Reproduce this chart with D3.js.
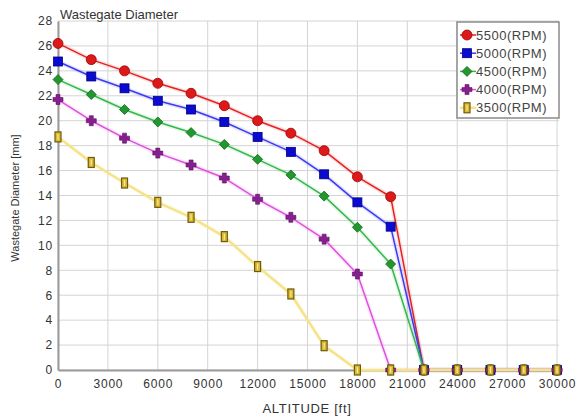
<!DOCTYPE html>
<html><head><meta charset="utf-8">
<script src="https://cdn.jsdelivr.net/npm/d3@7"></script>
<style>body{margin:0;background:#fff;} svg{display:block;font-family:"Liberation Sans",Arial,sans-serif;}</style>
</head><body>
<svg id="c" width="581" height="418"></svg>
<script>
const altitudes = [0,2000,4000,6000,8000,10000,12000,14000,16000,18000,20000,22000,24000,26000,28000,30000];
const rpm5500 = [26.2,24.9,24.0,23.0,22.2,21.2,20.0,19.0,17.6,15.5,13.9,0,0,0,0,0];
const rpm5000 = [24.75,23.55,22.6,21.6,20.9,19.9,18.7,17.5,15.7,13.45,11.5,0,0,0,0,0];
const rpm4500 = [23.3,22.1,20.9,19.9,19.05,18.1,16.9,15.65,13.95,11.45,8.5,0,0,0,0,0];
const rpm4000 = [21.7,20.0,18.6,17.4,16.45,15.4,13.7,12.25,10.5,7.7,0,0,0,0,0,0];
const rpm3500 = [18.7,16.65,15.0,13.45,12.25,10.7,8.3,6.1,1.95,0,0,0,0,0,0,0];
const seriesNames = ["5500(RPM)","5000(RPM)","4500(RPM)","4000(RPM)","3500(RPM)"];
const xTicks = [0,3000,6000,9000,12000,15000,18000,21000,24000,27000,30000];
const yTicks = [0,2,4,6,8,10,12,14,16,18,20,22,24,26,28];

const series = [
  {name:seriesNames[0], values:rpm5500, line:"#e52222", lw:1.5, fill:"#dd1a1a", stroke:"#a00000", shape:"circle"},
  {name:seriesNames[1], values:rpm5000, line:"#3a3af5", lw:1.5, fill:"#0a0ad0", stroke:"#000080", shape:"square"},
  {name:seriesNames[2], values:rpm4500, line:"#33b84a", lw:1.5, fill:"#23962f", stroke:"#0f6a1a", shape:"diamond"},
  {name:seriesNames[3], values:rpm4000, line:"#e050e0", lw:1.5, fill:"#86208f", stroke:"#5a0f60", shape:"plus"},
  {name:seriesNames[4], values:rpm3500, line:"#f4e38a", lw:2.5, fill:"#d9b834", stroke:"#6e5a08", shape:"bar"}
];

const svg = d3.select("#c");
const m = {l:58, r:557, t:21, b:370};
const x = d3.scaleLinear().domain([0,30000]).range([m.l,m.r]);
const y = d3.scaleLinear().domain([0,28]).range([m.b,m.t]);

// grid
const g = svg.append("g");
g.selectAll("line.h").data(yTicks).join("line")
  .attr("x1",m.l).attr("x2",m.r+2).attr("y1",d=>y(d)).attr("y2",d=>y(d))
  .attr("stroke","#d4d4d4").attr("stroke-width",1);
g.selectAll("line.v").data(xTicks).join("line")
  .attr("y1",m.t).attr("y2",m.b).attr("x1",d=>x(d)).attr("x2",d=>x(d))
  .attr("stroke","#d4d4d4").attr("stroke-width",1);

// axes
const xa = svg.append("g").attr("transform",`translate(0,${m.b})`)
  .call(d3.axisBottom(x).tickValues(xTicks).tickSize(0).tickPadding(9).tickFormat(d3.format("d")));
const ya = svg.append("g").attr("transform",`translate(${m.l},0)`)
  .call(d3.axisLeft(y).tickValues(yTicks).tickSize(0).tickPadding(5));
[xa,ya].forEach(a=>{
  a.select(".domain").attr("stroke","#9a9a9a").attr("stroke-width",2);
  a.selectAll("text").attr("fill","#333").style("font-size","12px").style("letter-spacing","0.8px")
    .style("font-family","'Liberation Sans',Arial,sans-serif");
});

// lines
const line = d3.line().x((d,i)=>x(altitudes[i])).y(d=>y(d));
const lg = svg.append("g");
series.forEach(s=>{
  lg.append("path").datum(s.values).attr("d",line).attr("fill","none")
    .attr("stroke",s.line).attr("stroke-width",s.lw+3).attr("stroke-opacity",0.12).attr("stroke-linejoin","round");
  lg.append("path").datum(s.values).attr("d",line).attr("fill","none")
    .attr("stroke",s.line).attr("stroke-width",s.lw).attr("stroke-linejoin","round");
});

function marker(sel, s, cx, cy){
  if(s.shape==="circle"){
    sel.append("circle").attr("cx",cx).attr("cy",cy).attr("r",5).attr("fill",s.fill).attr("stroke",s.stroke).attr("stroke-width",0.8);
  } else if(s.shape==="square"){
    sel.append("rect").attr("x",cx-4.5).attr("y",cy-4.5).attr("width",9).attr("height",9).attr("fill",s.fill).attr("stroke",s.stroke).attr("stroke-width",0.8);
  } else if(s.shape==="diamond"){
    sel.append("path").attr("d",`M${cx},${cy-5}L${cx+5},${cy}L${cx},${cy+5}L${cx-5},${cy}Z`).attr("fill",s.fill).attr("stroke",s.stroke).attr("stroke-width",0.8);
  } else if(s.shape==="plus"){
    const a=5,b=2;
    sel.append("path").attr("d",`M${cx-b},${cy-a}H${cx+b}V${cy-b}H${cx+a}V${cy+b}H${cx+b}V${cy+a}H${cx-b}V${cy+b}H${cx-a}V${cy-b}H${cx-b}Z`)
      .attr("fill",s.fill).attr("stroke",s.stroke).attr("stroke-width",0.6);
  } else {
    sel.append("rect").attr("x",cx-3).attr("y",cy-5).attr("width",6).attr("height",10).attr("fill",s.fill).attr("stroke",s.stroke).attr("stroke-width",1.2);
    sel.append("line").attr("x1",cx).attr("x2",cx).attr("y1",cy-3).attr("y2",cy+3).attr("stroke","#f7ea9a").attr("stroke-width",1.2);
  }
}
const mg = svg.append("g");
series.forEach(s=>{
  s.values.forEach((v,i)=>marker(mg,s,x(altitudes[i]),y(v)));
});

// title and labels
svg.append("text").attr("x",60).attr("y",19).text("Wastegate Diameter")
  .attr("fill","#333").style("font-size","13px");
svg.append("text").attr("x",307).attr("y",413).attr("text-anchor","middle").text("ALTITUDE [ft]")
  .attr("fill","#333").style("font-size","13px").style("letter-spacing","0.7px");
svg.append("text").attr("transform","translate(19,198) rotate(-90)").attr("text-anchor","middle").text("Wastegate Diameter [mm]")
  .attr("fill","#333").style("font-size","11px");

// legend
const L = svg.append("g");
L.append("rect").attr("x",457).attr("y",22).attr("width",102).attr("height",96)
  .attr("fill","#fff").attr("stroke","#8a8a8a").attr("stroke-width",1.5);
series.forEach((s,i)=>{
  const cy = 35 + i*18.2;
  L.append("line").attr("x1",460).attr("x2",476).attr("y1",cy).attr("y2",cy).attr("stroke",s.line).attr("stroke-width",s.lw);
  marker(L,s,467,cy);
  L.append("text").attr("x",476).attr("y",cy+4.5).text(s.name).attr("fill","#444")
    .style("font-size","13px").style("letter-spacing","0.5px");
});
</script>
</body></html>
